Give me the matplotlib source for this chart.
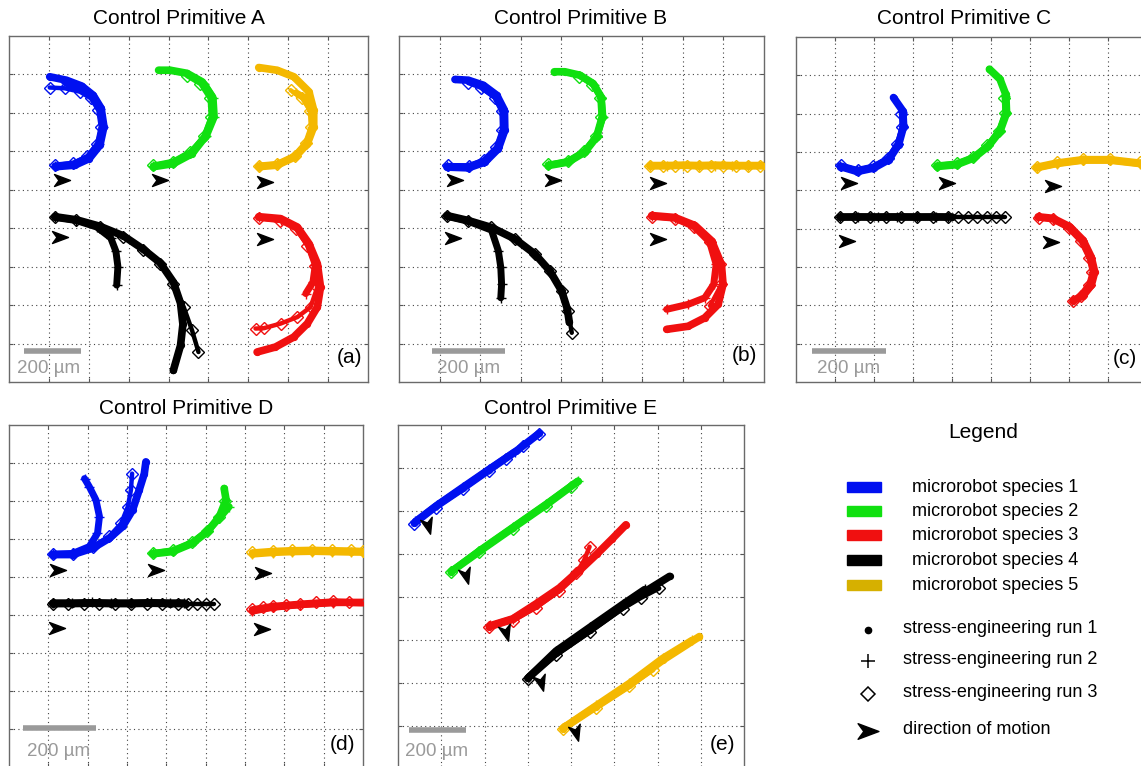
import matplotlib.pyplot as plt
from matplotlib.markers import MarkerStyle
from matplotlib.path import Path
from matplotlib.transforms import Affine2D

plt.rcParams['font.family'] = ['Liberation Sans', 'DejaVu Sans']

W, H = 1141, 766

# legend categories
species_labels = ['microrobot species 1', 'microrobot species 2', 'microrobot species 3',
                  'microrobot species 4', 'microrobot species 5']
species_colors = ['#0010f0', '#10e010', '#f01010', '#000000', '#f4b800']
patch_colors = ['#0010f0', '#10e010', '#f01010', '#000000', '#d6b000']
run_labels = ['stress-engineering run 1', 'stress-engineering run 2', 'stress-engineering run 3']
run_markers = ['o', '+', 'D']

# trajectories, grid units (x from left border, y from top border), [run1, run2, run3]
# ---- Control Primitive A
a_sp1 = [[(1.17,3.40),(1.65,3.36),(2.01,3.19),(2.28,2.84),(2.38,2.36),(2.31,1.88),(2.11,1.54),(1.82,1.30),(1.44,1.15),(1.02,1.06)],
         [(1.15,3.38),(1.63,3.33),(1.99,3.15),(2.25,2.80),(2.35,2.36),(2.28,1.90),(2.08,1.57),(1.78,1.36),(1.42,1.22)],
         [(1.15,3.36),(1.61,3.30),(1.96,3.13),(2.21,2.80),(2.30,2.36),(2.24,1.93),(2.05,1.62),(1.78,1.45),(1.40,1.36),(1.02,1.34)]]
a_sp2 = [[(3.62,3.40),(4.12,3.32),(4.59,3.06),(4.92,2.62),(5.11,2.10),(5.09,1.58),(4.84,1.19),(4.46,0.97),(4.04,0.89),(3.75,0.89)],
         [(3.62,3.38),(4.12,3.28),(4.57,3.02),(4.95,2.60),(5.15,2.10),(5.12,1.60),(4.90,1.25)],
         [(3.62,3.36),(4.10,3.27),(4.55,3.01),(4.88,2.60),(5.06,2.10),(5.03,1.62),(4.80,1.25),(4.46,1.04)]]
a_sp3 = [[(6.26,4.70),(6.81,4.75),(7.23,4.97),(7.52,5.40),(7.73,5.92),(7.81,6.53),(7.73,7.05),(7.48,7.48),(7.14,7.83),(6.68,8.09),(6.22,8.22)],
         [(6.26,4.72),(6.81,4.78),(7.22,5.00),(7.50,5.42),(7.68,5.95),(7.62,6.40),(7.44,6.70)],
         [(6.26,4.74),(6.80,4.80),(7.20,5.02),(7.48,5.45),(7.68,5.98),(7.73,6.53),(7.56,7.05),(7.23,7.31),(6.81,7.48),(6.39,7.60),(6.18,7.61)]]
a_sp4 = [[(1.15,4.70),(1.69,4.78),(2.28,4.95),(2.87,5.20),(3.37,5.55),(3.79,5.90),(4.12,6.40),(4.30,6.95),(4.36,7.50),(4.30,8.05),(4.12,8.70)],
         [(1.15,4.72),(1.69,4.80),(2.20,4.97),(2.55,5.25),(2.68,5.60),(2.73,6.00),(2.70,6.48)],
         [(1.15,4.70),(1.69,4.79),(2.28,4.97),(2.87,5.23),(3.37,5.57),(3.79,5.92),(4.12,6.44),(4.38,7.05),(4.59,7.66),(4.75,8.22)]]
a_sp5 = [[(6.26,3.40),(6.72,3.36),(7.18,3.14),(7.48,2.80),(7.64,2.36),(7.64,1.93),(7.52,1.45),(7.14,1.06),(6.72,0.89),(6.26,0.82)],
         [(6.26,3.38),(6.72,3.34),(7.17,3.12),(7.46,2.78),(7.60,2.36),(7.58,1.95),(7.42,1.62),(7.20,1.48)],
         [(6.26,3.38),(6.72,3.34),(7.16,3.12),(7.45,2.78),(7.58,2.36),(7.55,1.95),(7.35,1.62),(7.06,1.41)]]
a_arrows = [(1.32,3.75),(3.79,3.75),(6.43,3.79),(1.27,5.24),(6.43,5.27)]

# ---- Control Primitive B
b_sp1 = [[(1.18,3.41),(1.71,3.43),(2.12,3.28),(2.45,2.93),(2.61,2.45),(2.60,1.93),(2.41,1.54),(2.08,1.28),(1.71,1.15),(1.38,1.13)],
         [(1.18,3.39),(1.71,3.40),(2.10,3.25),(2.42,2.91),(2.57,2.45),(2.56,1.95),(2.38,1.58),(2.05,1.33)],
         [(1.20,3.36),(1.72,3.37),(2.09,3.22),(2.40,2.90),(2.55,2.45),(2.54,1.96),(2.36,1.60),(2.03,1.35),(1.70,1.22)]]
b_sp2 = [[(3.68,3.37),(4.17,3.28),(4.58,3.02),(4.87,2.63),(5.01,2.11),(4.98,1.58),(4.79,1.24),(4.46,1.02),(4.09,0.93),(3.83,0.93)],
         [(3.68,3.36),(4.17,3.26),(4.58,3.00),(4.88,2.60),(5.03,2.10),(4.99,1.60),(4.80,1.27)],
         [(3.68,3.34),(4.16,3.25),(4.56,2.99),(4.85,2.61),(4.99,2.11),(4.96,1.60),(4.77,1.27),(4.45,1.06)]]
b_sp3 = [[(6.23,4.67),(6.80,4.72),(7.30,4.93),(7.71,5.33),(7.95,5.94),(7.99,6.46),(7.87,6.98),(7.54,7.33),(7.13,7.55),(6.60,7.63)],
         [(6.23,4.69),(6.80,4.74),(7.28,4.96),(7.66,5.36),(7.82,5.94),(7.76,6.46),(7.54,6.81),(7.13,6.98),(6.60,7.11)],
         [(6.23,4.70),(6.80,4.75),(7.28,4.96),(7.68,5.35),(7.92,5.94),(7.95,6.46),(7.67,7.02)]]
b_sp4 = [[(1.18,4.67),(1.71,4.80),(2.28,4.98),(2.86,5.28),(3.35,5.67),(3.72,6.11),(4.01,6.63),(4.15,7.10),(4.20,7.45)],
         [(1.18,4.69),(1.71,4.82),(2.28,5.05),(2.45,5.59),(2.51,6.02),(2.53,6.46),(2.51,6.81)],
         [(1.18,4.67),(1.71,4.80),(2.28,4.98),(2.86,5.28),(3.35,5.67),(3.72,6.11),(4.01,6.63),(4.17,7.15),(4.26,7.72)]]
b_sp5 = [[(6.19,3.37),(6.60,3.37),(7.00,3.36),(7.40,3.37),(7.80,3.36),(8.20,3.37),(8.60,3.37),(9.02,3.37)],
         [(6.19,3.38),(6.60,3.38),(7.00,3.37),(7.40,3.38),(7.80,3.38),(8.20,3.38),(8.60,3.38),(9.02,3.38)],
         [(6.19,3.37),(6.50,3.37),(6.80,3.37),(7.10,3.37),(7.40,3.37),(7.70,3.37),(8.00,3.37),(8.30,3.37),(8.60,3.37),(8.90,3.37)]]
b_arrows = [(1.38,3.74),(3.80,3.74),(6.39,3.83),(1.34,5.26),(6.39,5.28)]

# ---- Control Primitive C
c_sp1 = [[(1.14,3.38),(1.57,3.51),(1.99,3.42),(2.38,3.20),(2.63,2.81),(2.76,2.33),(2.74,1.93),(2.50,1.58)],
         [(1.14,3.36),(1.57,3.48),(1.99,3.39),(2.38,3.17),(2.62,2.79),(2.75,2.33),(2.73,1.95)],
         [(1.16,3.35),(1.58,3.46),(1.98,3.37),(2.35,3.15),(2.60,2.78),(2.72,2.35),(2.70,2.00)]]
c_sp2 = [[(3.61,3.38),(4.12,3.33),(4.55,3.16),(4.93,2.85),(5.23,2.46),(5.40,1.98),(5.38,1.50),(5.23,1.10),(4.96,0.84)],
         [(3.61,3.36),(4.12,3.31),(4.55,3.14),(4.93,2.83),(5.22,2.44),(5.38,1.98),(5.36,1.55)],
         [(3.62,3.35),(4.12,3.30),(4.54,3.13),(4.91,2.82),(5.20,2.44),(5.36,1.98),(5.34,1.60)]]
c_sp3 = [[(6.21,4.69),(6.59,4.73),(7.02,4.95),(7.36,5.30),(7.57,5.74),(7.66,6.13),(7.57,6.48),(7.36,6.75),(7.10,6.88)],
         [(6.21,4.70),(6.59,4.75),(7.00,4.97),(7.33,5.32),(7.54,5.76),(7.62,6.13),(7.53,6.46),(7.33,6.72)],
         [(6.23,4.71),(6.59,4.76),(7.00,4.98),(7.32,5.33),(7.52,5.76),(7.60,6.13),(7.52,6.48),(7.32,6.75),(7.10,6.90)]]
c_sp4 = [[(1.14,4.69),(1.60,4.69),(2.10,4.69),(2.60,4.69),(3.10,4.69),(3.60,4.69),(4.00,4.69)],
         [(1.14,4.70),(1.60,4.69),(2.10,4.70),(2.60,4.69),(3.10,4.70),(3.60,4.69),(3.90,4.70)],
         [(1.14,4.69),(1.50,4.69),(1.90,4.69),(2.30,4.69),(2.70,4.69),(3.10,4.69),(3.50,4.69),(3.90,4.69),
          (4.15,4.69),(4.40,4.69),(4.65,4.69),(4.90,4.69),(5.13,4.69),(5.36,4.69)]]
c_sp5 = [[(6.17,3.40),(6.68,3.29),(7.36,3.20),(8.04,3.20),(8.81,3.29),(9.23,3.33)],
         [(6.17,3.42),(6.68,3.31),(7.36,3.22),(8.04,3.22),(8.81,3.31),(9.23,3.35)],
         [(6.19,3.38),(6.68,3.27),(7.36,3.18),(8.04,3.18),(8.81,3.27),(9.23,3.31)]]
c_arrows = [(1.35,3.81),(3.87,3.81),(6.59,3.90),(1.31,5.33),(6.55,5.36)]

# ---- Control Primitive D
d_sp1 = [[(1.11,3.41),(1.62,3.41),(2.13,3.24),(2.55,2.98),(2.89,2.67),(3.14,2.24),(3.31,1.71),(3.44,1.28),(3.48,0.97)],
         [(1.11,3.40),(1.62,3.38),(2.04,3.20),(2.25,2.85),(2.30,2.41),(2.21,1.97),(2.04,1.62),(1.92,1.41)],
         [(1.11,3.40),(1.62,3.39),(2.13,3.20),(2.55,2.93),(2.85,2.59),(3.02,2.15),(3.10,1.71),(3.13,1.28)]]
d_sp2 = [[(3.65,3.39),(4.16,3.33),(4.67,3.11),(5.05,2.80),(5.35,2.41),(5.52,1.97),(5.47,1.67)],
         [(3.65,3.38),(4.16,3.31),(4.67,3.09),(5.05,2.78),(5.35,2.45),(5.60,2.15)],
         [(3.66,3.37),(4.16,3.30),(4.66,3.08),(5.04,2.78),(5.33,2.42),(5.50,2.00)]]
d_sp3 = [[(6.19,4.87),(6.70,4.78),(7.40,4.72),(8.25,4.66),(9.08,4.68)],
         [(6.19,4.90),(6.70,4.80),(7.40,4.73),(8.25,4.68),(9.05,4.66)],
         [(6.19,4.84),(6.45,4.80),(6.70,4.76),(7.05,4.73),(7.40,4.70),(7.80,4.67),(8.25,4.64),(8.65,4.65),(9.08,4.66)]]
d_sp4 = [[(1.11,4.70),(1.60,4.70),(2.10,4.69),(2.60,4.70),(3.10,4.70),(3.60,4.69),(4.10,4.70),(4.50,4.70)],
         [(1.11,4.68),(1.60,4.68),(2.10,4.67),(2.60,4.68),(3.10,4.68),(3.60,4.67),(4.10,4.68),(4.45,4.68)],
         [(1.11,4.70),(1.50,4.70),(1.90,4.70),(2.30,4.70),(2.70,4.70),(3.10,4.70),(3.50,4.70),(3.90,4.70),
          (4.30,4.70),(4.55,4.70),(4.78,4.70),(5.00,4.70),(5.22,4.70)]]
d_sp5 = [[(6.19,3.37),(6.70,3.33),(7.20,3.31),(7.70,3.30),(8.20,3.31),(8.70,3.32),(8.99,3.33)],
         [(6.19,3.40),(6.70,3.36),(7.20,3.34),(7.70,3.33),(8.20,3.34),(8.70,3.35),(8.99,3.35)],
         [(6.19,3.35),(6.70,3.31),(7.20,3.29),(7.70,3.28),(8.20,3.29),(8.70,3.30),(8.99,3.31)]]
d_arrows = [(1.24,3.81),(3.74,3.81),(6.45,3.90),(1.21,5.34),(6.43,5.36)]

# ---- Control Primitive E
e_sp1 = [[(0.38,2.28),(0.88,1.89),(1.50,1.47),(2.11,1.04),(2.73,0.61),(3.27,0.19)],
         [(0.40,2.24),(0.90,1.86),(1.50,1.44),(2.11,1.02),(2.70,0.62)],
         [(0.38,2.30),(0.88,1.92),(1.50,1.50),(2.11,1.06),(2.50,0.79),(2.90,0.50),(3.27,0.20)]]
e_sp2 = [[(1.23,3.41),(1.88,2.94),(2.65,2.40),(3.42,1.86),(4.16,1.31)],
         [(1.24,3.40),(1.88,2.92),(2.65,2.38),(3.42,1.84),(4.16,1.30)],
         [(1.22,3.42),(1.88,2.96),(2.65,2.42),(3.42,1.88),(4.00,1.45)]]
e_sp3 = [[(2.11,4.69),(2.65,4.52),(3.19,4.20),(3.73,3.82),(4.20,3.38),(4.60,3.00),(4.95,2.65),(5.27,2.32)],
         [(2.13,4.66),(2.65,4.50),(3.19,4.15),(3.73,3.78),(4.15,3.40)],
         [(2.11,4.70),(2.65,4.55),(3.19,4.25),(3.73,3.86),(4.12,3.45),(4.30,3.15),(4.43,2.83)]]
e_sp4 = [[(3.00,5.89),(3.65,5.31),(4.43,4.77),(5.20,4.22),(5.80,3.82),(6.28,3.52)],
         [(3.02,5.86),(3.65,5.25),(4.43,4.70),(5.20,4.16),(5.70,3.82)],
         [(3.00,5.90),(3.65,5.36),(4.43,4.82),(5.20,4.27),(5.62,4.02),(6.04,3.80)]]
e_sp5 = [[(3.81,7.06),(4.58,6.55),(5.35,6.05),(6.12,5.47),(6.97,4.92)],
         [(3.83,7.03),(4.58,6.52),(5.35,6.00),(6.12,5.42),(6.80,5.00)],
         [(3.81,7.08),(4.58,6.58),(5.35,6.08),(5.90,5.70)]]
e_arrows = [(0.69,2.36),(1.57,3.52),(2.50,4.84),(3.31,6.01),(4.12,7.17)]

# scale bars (x0, x1, y) in grid units, all 200 um
a_bar = (0.37, 1.80, 8.2)
b_bar = (0.81, 2.61, 8.2)
c_bar = (0.41, 2.30, 8.19)
d_bar = (0.35, 2.21, 7.98)
e_bar = (0.25, 1.57, 7.10)

# arrowhead marker, pointing right
arrow_path = Path([(1, 0), (-1, 0.75), (-0.45, 0), (-1, -0.75), (1, 0)],
                  [Path.MOVETO, Path.LINETO, Path.LINETO, Path.LINETO, Path.CLOSEPOLY])


def arrow_marker(angle):
    return MarkerStyle(arrow_path, transform=Affine2D().rotate_deg(angle))


fig = plt.figure(figsize=(W / 100, H / 100), dpi=100)


def draw_panel(box, ncols, nrows, title, title_xy, tag, tag_xy, tracks, arrows, arrow_angle, bar, text_xy):
    l, t, r, b = box
    ax = fig.add_axes([l / W, 1 - b / H, (r - l) / W, (b - t) / H])
    ax.set_xlim(0, ncols)
    ax.set_ylim(nrows, 0)
    ax.set_xticks(range(1, ncols))
    ax.set_yticks(range(1, nrows))
    ax.tick_params(direction='in', length=3, width=0.8, top=True, right=True,
                   labelbottom=False, labelleft=False, color='#555555')
    ax.grid(True, color='#444444', linestyle=(0, (1, 3)), linewidth=0.8)
    for sp in ax.spines.values():
        sp.set_color('#6a6a6a')
        sp.set_linewidth(1.0)

    for sp_idx, runs in enumerate(tracks):
        c = species_colors[sp_idx]
        for run_idx, run in enumerate(runs):
            xs = [p[0] for p in run]
            ys = [p[1] for p in run]
            m = run_markers[run_idx]
            if m == 'o':
                ax.plot(xs, ys, color=c, lw=5.5, solid_capstyle='round', solid_joinstyle='round', zorder=2)
                ax.plot(xs, ys, ls='none', marker='o', ms=4.2, color=c, zorder=3)
            elif m == '+':
                ax.plot(xs, ys, color=c, lw=5.0, solid_capstyle='round', solid_joinstyle='round', zorder=2)
                ax.plot(xs, ys, ls='none', marker='+', ms=7, mew=1.0, color=c, zorder=3)
            else:
                ax.plot(xs, ys, color=c, lw=3.2, solid_capstyle='round', solid_joinstyle='round', zorder=2)
                ax.plot(xs, ys, ls='none', marker='D', ms=6.5, mew=1.0, mfc='none', mec=c, zorder=3)

    ax.plot([p[0] for p in arrows], [p[1] for p in arrows], ls='none',
            marker=arrow_marker(arrow_angle), ms=11.5, color='black', zorder=4)

    ax.plot([bar[0], bar[1]], [bar[2], bar[2]], color='#9a9a9a', lw=4, solid_capstyle='butt', zorder=4)
    ax.text(text_xy[0], text_xy[1], '200 \u00b5m', color='#9a9a9a', fontsize=13.5,
            ha='left', va='center', zorder=5)
    ax.text(tag_xy[0], tag_xy[1], tag, fontsize=15, ha='right', va='center', zorder=5)
    fig.text(title_xy[0] / W, 1 - title_xy[1] / H, title, fontsize=15, ha='center', va='center')
    return ax


draw_panel((9, 36, 368, 382), 9, 9, 'Control Primitive A', (179, 18), '(a)', (8.85, 8.35),
           [a_sp1, a_sp2, a_sp3, a_sp4, a_sp5], a_arrows, 0, a_bar, (0.2, 8.65))
draw_panel((399, 36, 764, 382), 9, 9, 'Control Primitive B', (581, 19), '(b)', (8.84, 8.3),
           [b_sp1, b_sp2, b_sp3, b_sp4, b_sp5], b_arrows, 0, b_bar, (0.94, 8.65))
draw_panel((796, 37, 1147, 382), 9, 9, 'Control Primitive C', (964, 19), '(c)', (8.75, 8.4),
           [c_sp1, c_sp2, c_sp3, c_sp4, c_sp5], c_arrows, 0, c_bar, (0.54, 8.65))
draw_panel((9, 425, 363, 767), 9, 9, 'Control Primitive D', (186, 409), '(d)', (8.8, 8.42),
           [d_sp1, d_sp2, d_sp3, d_sp4, d_sp5], d_arrows, 0, d_bar, (0.46, 8.6))
draw_panel((398, 425, 744, 769), 8, 8, 'Control Primitive E', (571, 409), '(e)', (7.8, 7.44),
           [e_sp1, e_sp2, e_sp3, e_sp4, e_sp5], e_arrows, -75, e_bar, (0.16, 7.6))

# legend block
lg = fig.add_axes([830 / W, 0, (W - 830) / W, (H - 410) / H])
lg.set_xlim(830, W)
lg.set_ylim(H, 410)
lg.axis('off')
lg.text(983, 432, 'Legend', fontsize=15, ha='center', va='center')
patch_rows = [487, 511, 535, 560, 585]
for yy, lab, col in zip(patch_rows, species_labels, patch_colors):
    lg.add_patch(plt.Rectangle((847, yy - 5), 34, 10, color=col))
    lg.text(912, yy, lab, fontsize=13, ha='left', va='center')
marker_rows = [630, 661, 694, 731]
lg.plot(868, marker_rows[0], marker='o', ms=4.5, color='black')
lg.plot(868, marker_rows[1], marker='+', ms=9.5, mew=1.1, color='black')
lg.plot(868, marker_rows[2], marker='D', ms=7, mew=1.1, mfc='white', mec='black')
lg.plot(868, marker_rows[3], marker=arrow_marker(0), ms=15, color='black')
for yy, lab in zip(marker_rows, run_labels + ['direction of motion']):
    lg.text(903, yy - 2, lab, fontsize=13, ha='left', va='center')

plt.savefig('out.png', dpi=100)
